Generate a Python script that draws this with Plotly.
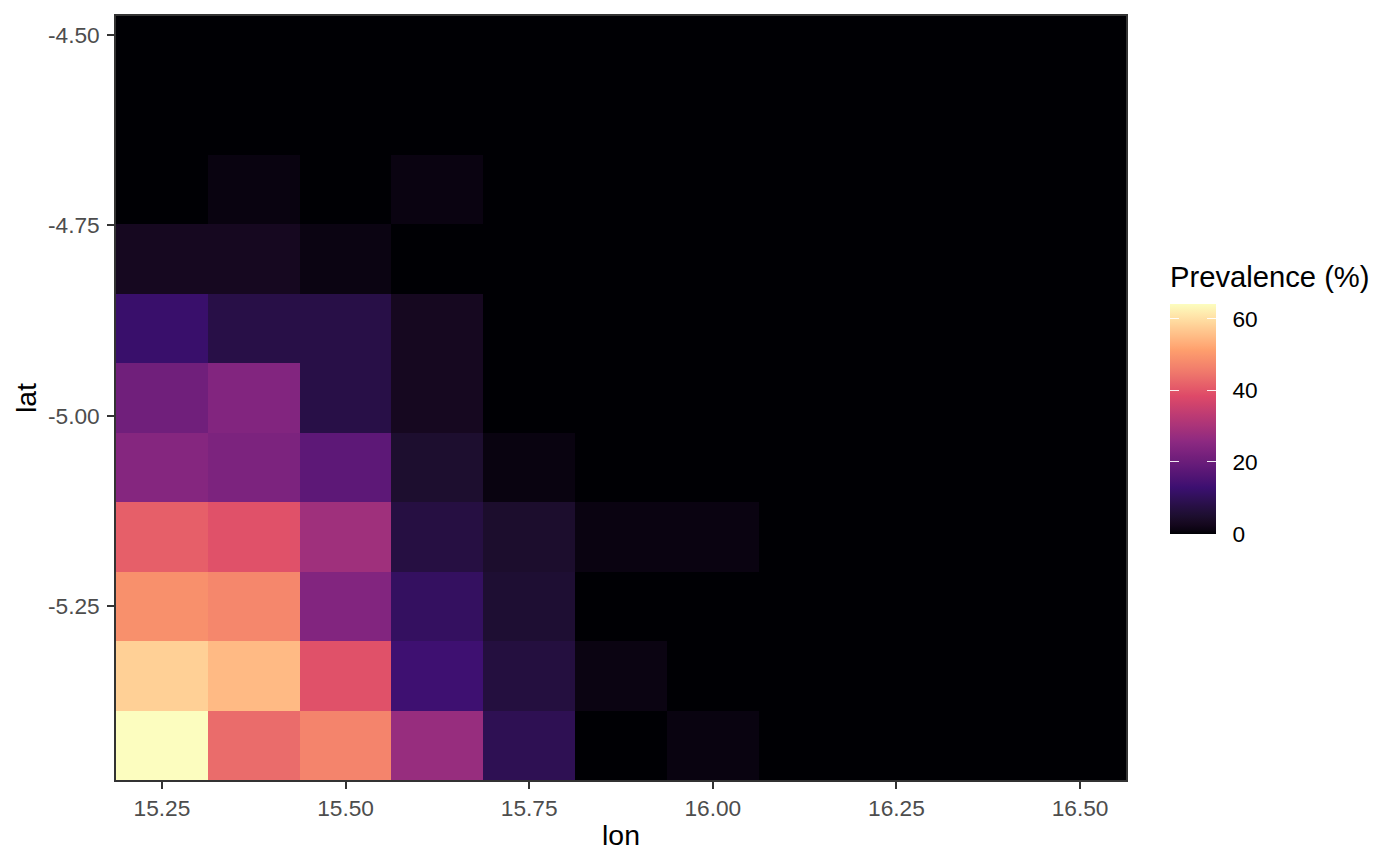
import plotly.graph_objects as go

lons = [15.25, 15.375, 15.5, 15.625, 15.75, 15.875, 16.0, 16.125, 16.25, 16.375, 16.5]
lats = [-5.4329, -5.3417, -5.2505, -5.1593, -5.0680, -4.9768, -4.8856, -4.7944, -4.7031, -4.6119, -4.5207]

# Prevalence (%), rows from south to north
prev_row0 = [64.2, 43.3, 47.0, 27.3, 9.5, 0.0, 1.0, 0, 0, 0, 0]
prev_row1 = [58.0, 55.0, 39.5, 13.3, 7.0, 1.2, 0, 0, 0, 0, 0]
prev_row2 = [49.0, 47.5, 24.0, 11.0, 5.5, 0, 0, 0, 0, 0, 0]
prev_row3 = [41.5, 39.5, 28.5, 7.5, 4.8, 1.1, 1.1, 0, 0, 0, 0]
prev_row4 = [24.5, 23.0, 18.0, 5.0, 1.0, 0, 0, 0, 0, 0, 0]
prev_row5 = [21.0, 24.0, 8.0, 3.0, 0, 0, 0, 0, 0, 0, 0]
prev_row6 = [12.3, 8.0, 8.0, 3.0, 0, 0, 0, 0, 0, 0, 0]
prev_row7 = [3.0, 3.0, 1.2, 0, 0, 0, 0, 0, 0, 0, 0]
prev_row8 = [0, 1.0, 0, 1.1, 0, 0, 0, 0, 0, 0, 0]
prev_row9 = [0, 0, 0, 0, 0, 0, 0, 0, 0, 0, 0]
prev_row10 = [0, 0, 0, 0, 0, 0, 0, 0, 0, 0, 0]
prevalence = [prev_row0, prev_row1, prev_row2, prev_row3, prev_row4, prev_row5,
              prev_row6, prev_row7, prev_row8, prev_row9, prev_row10]

lon_ticks = [15.25, 15.5, 15.75, 16.0, 16.25, 16.5]
lon_labels = ["15.25", "15.50", "15.75", "16.00", "16.25", "16.50"]
lat_ticks = [-4.5, -4.75, -5.0, -5.25]
lat_labels = ["-4.50", "-4.75", "-5.00", "-5.25"]
bar_tick_step = 20

FONT = "Liberation Sans, Arial, sans-serif"
ANCHORS = ["#000004", "#3B0F70", "#8C2981", "#DE4968", "#FE9F6D", "#FCFDBF"]

def hex2lab(h):
    c = [int(h[i:i + 2], 16) / 255 for i in (1, 3, 5)]
    r, g, b = [(v / 12.92 if v <= 0.04045 else ((v + 0.055) / 1.055) ** 2.4) for v in c]
    x = (0.4124564 * r + 0.3575761 * g + 0.1804375 * b) / 0.95047
    y = 0.2126729 * r + 0.7151522 * g + 0.0721750 * b
    z = (0.0193339 * r + 0.1191920 * g + 0.9503041 * b) / 1.08883
    f = lambda t: t ** (1 / 3) if t > 0.008856 else 7.787 * t + 16 / 116
    return 116 * f(y) - 16, 500 * (f(x) - f(y)), 200 * (f(y) - f(z))

def lab2hex(L_, a, b):
    fy = (L_ + 16) / 116
    fx, fz = fy + a / 500, fy - b / 200
    g = lambda t: t ** 3 if t ** 3 > 0.008856 else (t - 16 / 116) / 7.787
    x, y, z = 0.95047 * g(fx), g(fy), 1.08883 * g(fz)
    rgb = (3.2404542 * x - 1.5371385 * y - 0.4985314 * z,
           -0.9692660 * x + 1.8760108 * y + 0.0415560 * z,
           0.0556434 * x - 0.2040259 * y + 1.0572252 * z)
    out = []
    for v in rgb:
        v = max(0.0, min(1.0, v))
        v = 12.92 * v if v <= 0.0031308 else 1.055 * v ** (1 / 2.4) - 0.055
        out.append(round(v * 255))
    return "#%02X%02X%02X" % tuple(out)

labs = [hex2lab(h) for h in ANCHORS]
SCALE = []
for i in range(5):
    for j in range(10):
        t = j / 10
        SCALE.append([(i + t) / 5, lab2hex(*[p + (q - p) * t for p, q in zip(labs[i], labs[i + 1])])])
SCALE.append([1.0, ANCHORS[-1]])

W, H = 1385, 850
L, R, T, B = 108, 267, 6, 78
pw = W - L - R
ph = H - T - B
# figure pixels are page pixels minus the 8px page margin
def cb(left, thick, labels):
    return dict(
        thickness=thick, thicknessmode="pixels", len=230, lenmode="pixels",
        x=(left - 8 - L) / pw, xanchor="left", xpad=0, ypad=0,
        y=(780 - 533) / ph, yanchor="bottom",
        outlinewidth=0, borderwidth=0,
        tickmode="linear", tick0=0, dtick=bar_tick_step,
        ticks="inside", ticklen=9, tickwidth=1, tickcolor="rgba(255,255,255,0.9)",
        showticklabels=labels, tickprefix="\u2002",
        tickfont=dict(family=FONT, size=22.7, color="#000000"),
    )

common = dict(x=lons, y=lats, z=prevalence, colorscale=SCALE, zmin=0, zmax=64.2, xgap=0, ygap=0)
fig = go.Figure()
fig.add_trace(go.Heatmap(colorbar=cb(1170, 9, False), **common))
fig.add_trace(go.Heatmap(colorbar=cb(1179, 37, True), **common))

axis = dict(showline=True, linecolor="#333333", linewidth=1.5, mirror=True, showgrid=False, zeroline=False,
            ticks="outside", ticklen=7, tickwidth=1.5, tickcolor="#333333",
            tickfont=dict(family=FONT, size=22.7, color="#4D4D4D"), tickmode="array")
fig.update_layout(
    width=W, height=H, autosize=False, margin=dict(l=L, r=R, t=T, b=B),
    paper_bgcolor="white", plot_bgcolor="white",
    xaxis=dict(range=[15.1875, 16.5625], tickvals=lon_ticks, ticktext=lon_labels,
               title=dict(text="lon", font=dict(family=FONT, size=28.4, color="#000000"), standoff=5), **axis),
    yaxis=dict(range=[-5.4785, -4.4751], tickvals=lat_ticks, ticktext=lat_labels, ticklabelstandoff=3,
               title=dict(text="lat", font=dict(family=FONT, size=28.4, color="#000000"), standoff=3), **axis),
    annotations=[dict(text="Prevalence (%)", xref="paper", yref="paper", xanchor="left", yanchor="middle",
                      x=(1170 - 8 - L) / pw, y=(780 - 276) / ph, showarrow=False, xshift=-2,
                      font=dict(family=FONT, size=29.2, color="#000000"))],
)
fig.write_html("out.html")
